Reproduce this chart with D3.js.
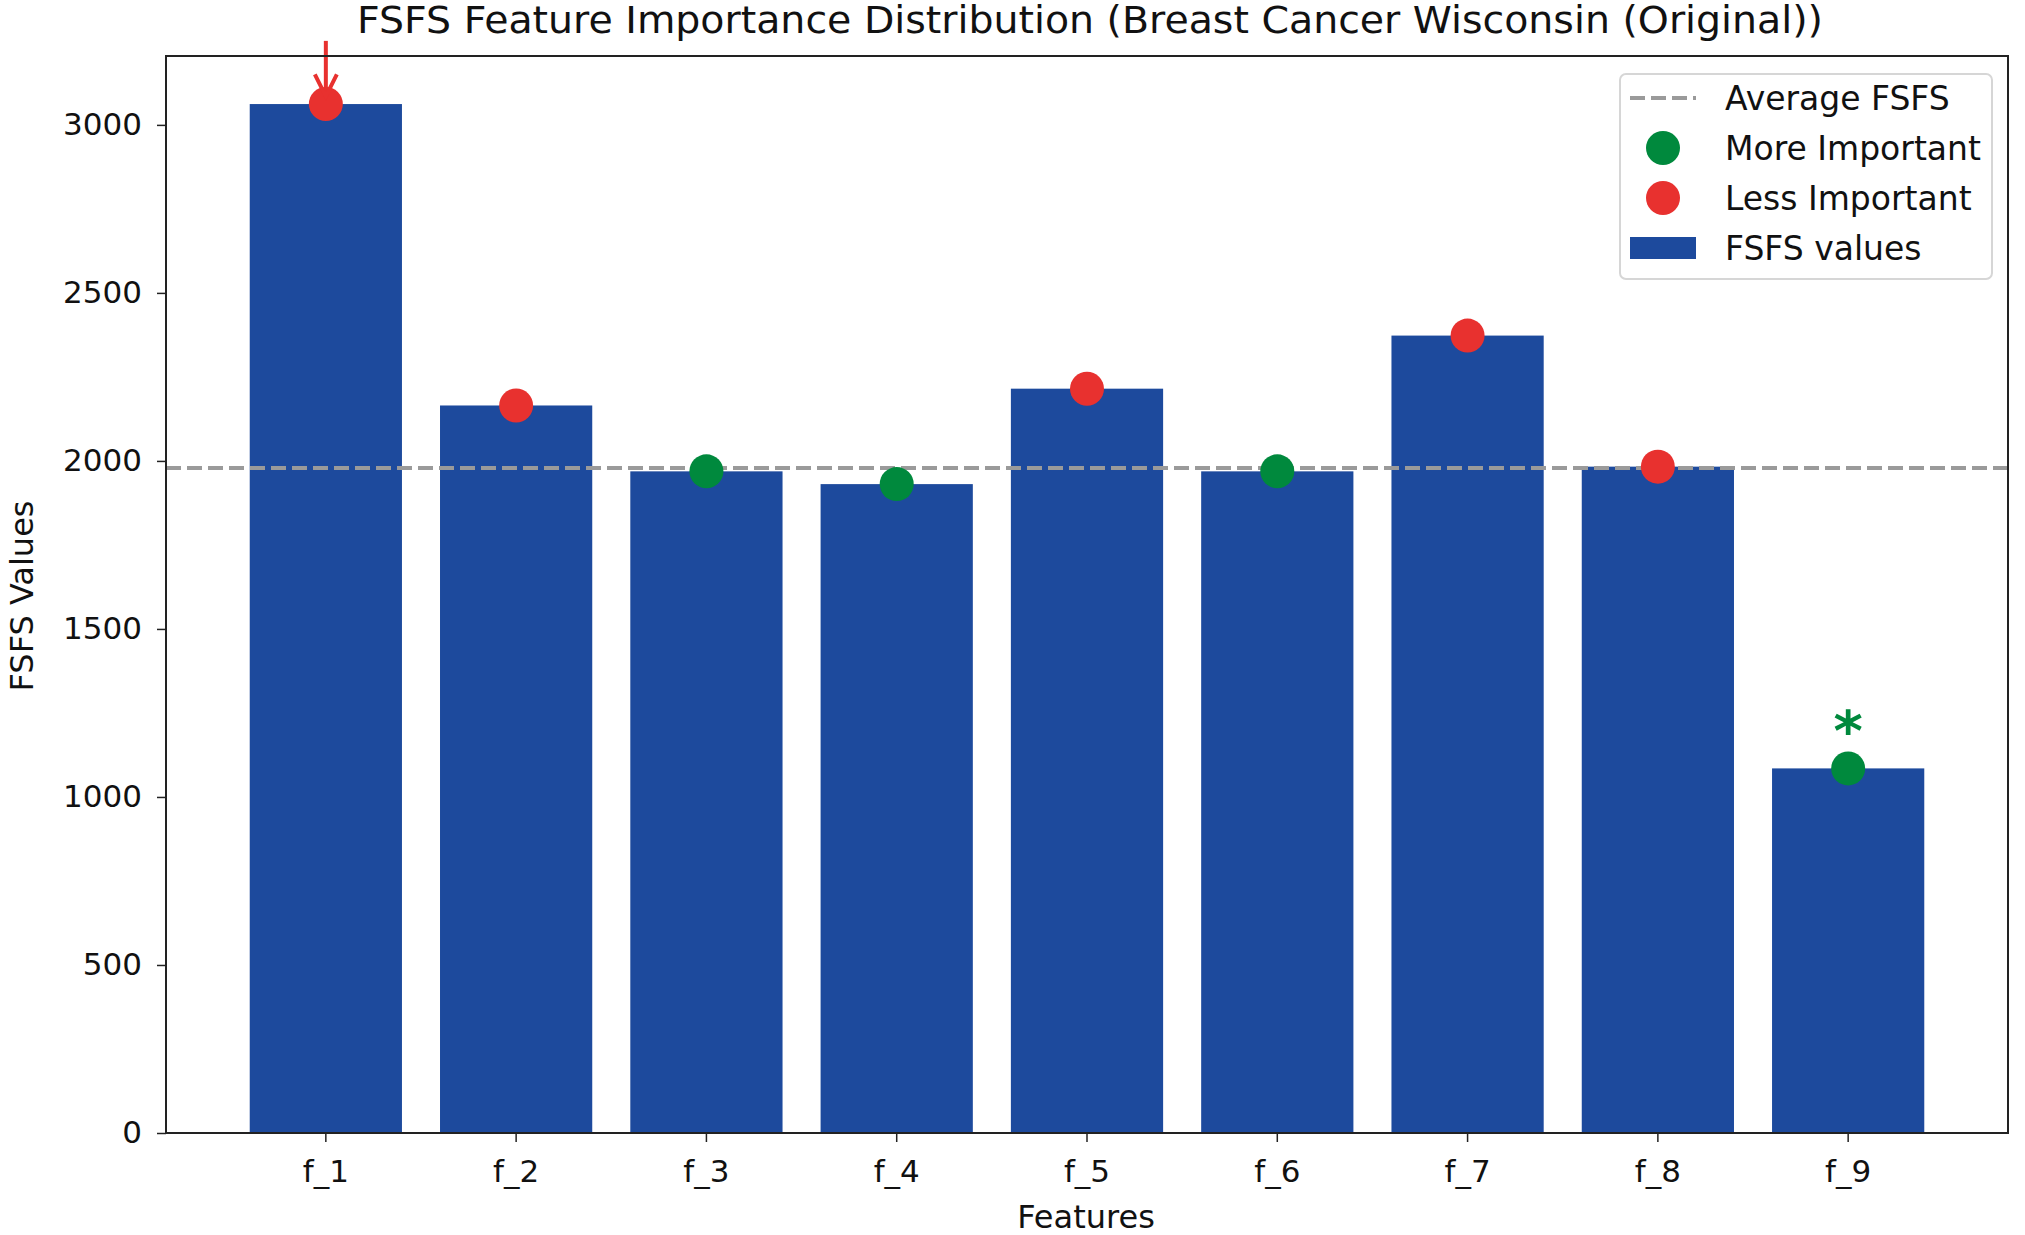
<!DOCTYPE html>
<html>
<head>
<meta charset="utf-8">
<script src="https://cdn.jsdelivr.net/npm/d3@7"></script>
<style>
  body { margin: 0; background: #fff; }
  text { font-family: "DejaVu Sans", sans-serif; fill: #111; }
</style>
</head>
<body>
<svg id="chart"></svg>
<script>
const features = ["f_1", "f_2", "f_3", "f_4", "f_5", "f_6", "f_7", "f_8", "f_9"];
const fsfsValues = [3062, 2165, 1969, 1931, 2215, 1969, 2373, 1983, 1085];
const averageFsfs = 1979;
const yTicks = [0, 500, 1000, 1500, 2000, 2500, 3000];
const highlightMax = { feature: "f_1", from: 3250, to: 3085 };
const highlightMin = { feature: "f_9", label: "*", at: 1230 };

const width = 2025;
const height = 1235;
const margin = { top: 56, right: 17, bottom: 102, left: 166 };

const barColor = "#1d4a9d";
const redColor = "#e8312f";
const greenColor = "#00893d";

const svg = d3.select("#chart").attr("width", width).attr("height", height);

const xScale = d3
  .scaleBand()
  .domain(features)
  .range([margin.left, width - margin.right])
  .paddingInner(0.2)
  .paddingOuter(0.44);

const yScale = d3
  .scaleLinear()
  .domain([0, 3205])
  .range([height - margin.bottom, margin.top]);

const cx = (f) => xScale(f) + xScale.bandwidth() / 2;

// bars
svg
  .selectAll(".bar")
  .data(fsfsValues)
  .enter()
  .append("rect")
  .attr("class", "bar")
  .attr("x", (d, i) => xScale(features[i]))
  .attr("y", (d) => yScale(d))
  .attr("width", xScale.bandwidth())
  .attr("height", (d) => yScale(0) - yScale(d))
  .attr("fill", barColor);

// average line
svg
  .append("line")
  .attr("x1", margin.left)
  .attr("x2", width - margin.right)
  .attr("y1", yScale(averageFsfs))
  .attr("y2", yScale(averageFsfs))
  .attr("stroke", "#9a9a9a")
  .attr("stroke-width", 4)
  .attr("stroke-dasharray", "15,6");

// markers
svg
  .selectAll(".dot")
  .data(fsfsValues)
  .enter()
  .append("circle")
  .attr("class", "dot")
  .attr("cx", (d, i) => cx(features[i]))
  .attr("cy", (d) => yScale(d))
  .attr("r", 17)
  .attr("fill", (d) => (d > averageFsfs ? redColor : greenColor));

// arrow on the largest value
const ax = cx(highlightMax.feature);
const ay1 = yScale(highlightMax.from);
const ay2 = yScale(highlightMax.to);
svg
  .append("line")
  .attr("x1", ax)
  .attr("x2", ax)
  .attr("y1", ay1)
  .attr("y2", ay2)
  .attr("stroke", redColor)
  .attr("stroke-width", 4);
svg
  .append("path")
  .attr("d", `M${ax - 11},${ay2 - 22} L${ax},${ay2} L${ax + 11},${ay2 - 22}`)
  .attr("fill", "none")
  .attr("stroke", redColor)
  .attr("stroke-width", 4);

// asterisk on the smallest value
svg
  .append("text")
  .attr("x", cx(highlightMin.feature))
  .attr("y", yScale(highlightMin.at))
  .attr("text-anchor", "middle")
  .attr("dy", "0.55em")
  .style("font-size", "56px")
  .style("font-weight", "bold")
  .style("fill", greenColor)
  .text(highlightMin.label);

// axes
const xAxis = d3.axisBottom(xScale).tickSizeOuter(0).tickSize(9).tickPadding(18);
const yAxis = d3
  .axisLeft(yScale)
  .tickValues(yTicks)
  .tickFormat(d3.format("d"))
  .tickSizeOuter(0)
  .tickSize(9)
  .tickPadding(15);

const gx = svg
  .append("g")
  .attr("transform", `translate(0, ${height - margin.bottom})`)
  .call(xAxis);
const gy = svg.append("g").attr("transform", `translate(${margin.left}, 0)`).call(yAxis);

[gx, gy].forEach((g) => {
  g.select(".domain").remove();
  g.selectAll("line").attr("stroke", "#222").attr("stroke-width", 1.5);
  g.selectAll("text").style("font-size", "31px").style("fill", "#111").style("font-family", "DejaVu Sans");
});

// frame
svg
  .append("rect")
  .attr("x", margin.left)
  .attr("y", margin.top)
  .attr("width", width - margin.right - margin.left)
  .attr("height", height - margin.bottom - margin.top)
  .attr("fill", "none")
  .attr("stroke", "#222")
  .attr("stroke-width", 2);

// titles
svg
  .append("text")
  .attr("x", 1090)
  .attr("y", 33)
  .attr("text-anchor", "middle")
  .style("font-size", "37px")
  .attr("textLength", 1466)
  .attr("lengthAdjust", "spacingAndGlyphs")
  .text("FSFS Feature Importance Distribution (Breast Cancer Wisconsin (Original))");

svg
  .append("text")
  .attr("x", 1086)
  .attr("y", 1228)
  .attr("text-anchor", "middle")
  .style("font-size", "32px")
  .text("Features");

svg
  .append("text")
  .attr("transform", `translate(33, 596) rotate(-90)`)
  .attr("text-anchor", "middle")
  .style("font-size", "32px")
  .text("FSFS Values");

// legend
const legend = svg.append("g").attr("transform", "translate(1620, 74)");
legend
  .append("rect")
  .attr("width", 372)
  .attr("height", 205)
  .attr("rx", 6)
  .attr("fill", "#fff")
  .attr("fill-opacity", 0.85)
  .attr("stroke", "#d6d6d6")
  .attr("stroke-width", 2);

const legendItems = [
  { label: "Average FSFS", type: "line" },
  { label: "More Important", type: "dot", color: greenColor },
  { label: "Less Important", type: "dot", color: redColor },
  { label: "FSFS values", type: "bar" }
];

legendItems.forEach((item, i) => {
  const y = 24 + i * 50;
  const row = legend.append("g").attr("transform", `translate(0, ${y})`);
  if (item.type === "line") {
    row
      .append("line")
      .attr("x1", 10)
      .attr("x2", 76)
      .attr("stroke", "#9a9a9a")
      .attr("stroke-width", 4)
      .attr("stroke-dasharray", "15,6");
  } else if (item.type === "dot") {
    row.append("circle").attr("cx", 43).attr("r", 17).attr("fill", item.color);
  } else {
    row.append("rect").attr("x", 10).attr("y", -11).attr("width", 66).attr("height", 22).attr("fill", barColor);
  }
  row
    .append("text")
    .attr("x", 105)
    .attr("dy", "0.35em")
    .style("font-size", "33px")
    .text(item.label);
});
</script>
</body>
</html>
